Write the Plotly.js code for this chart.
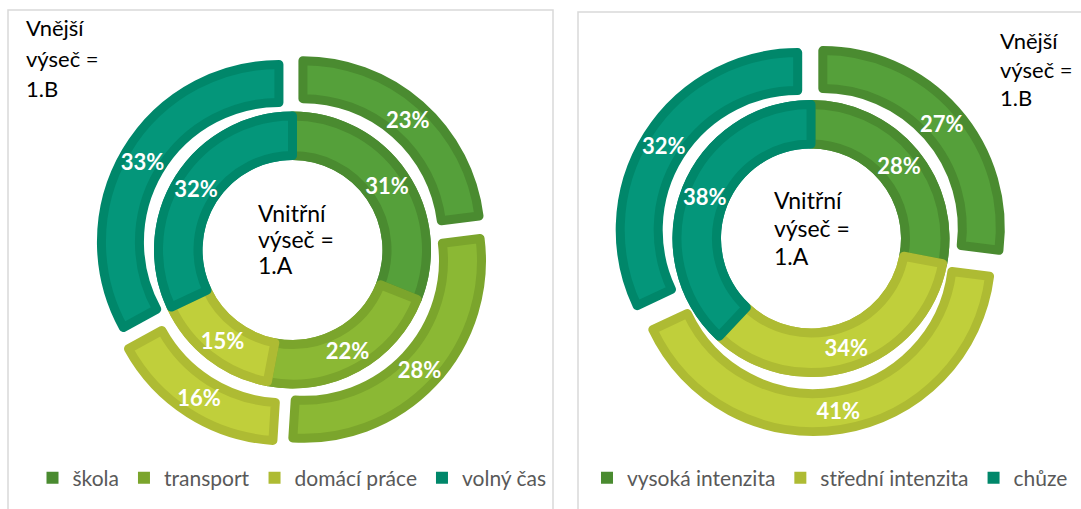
<!DOCTYPE html>
<html><head><meta charset="utf-8">
<script src="https://cdn.plot.ly/plotly-3.0.1.min.js"></script>
<style>html,body{margin:0;padding:0;background:#fff}#chart{width:1081px;height:509px}</style>
</head><body><div id="chart"></div>
<script>
// ---- data ----
const leftCategories = ['škola', 'transport', 'domácí práce', 'volný čas'];
const leftInner = [31, 22, 15, 32];   // Vnitřní výseč = 1.A
const leftOuter = [23, 28, 16, 33];   // Vnější výseč = 1.B
const rightCategories = ['vysoká intenzita', 'střední intenzita', 'chůze'];
const rightInner = [28, 34, 38];      // 1.A
const rightOuter = [27, 41, 32];      // 1.B
const innerNote = ['Vnitřní', 'výseč =', '1.A'];
const outerNote = ['Vnější', 'výseč =', '1.B'];

// ---- styles ----
const leftFill  = ['#55A03A', '#8BB834', '#C0CF3B', '#04967A'];
const leftLine  = ['#4A8B30', '#7BA52C', '#AEBB33', '#00876A'];
const rightFill = ['#55A03A', '#C0CF3B', '#04967A'];
const rightLine = ['#4A8B30', '#AEBB33', '#00876A'];

const W = 1081, H = 509;
const FONT = 'Lato, "Open Sans", sans-serif';
const px = x => x / W, py = y => (H - y) / H;
function dom(cx, cy, R, pull) {
  const h = R * (1 + pull);
  return {x: [px(cx - h), px(cx + h)], y: [py(cy + h), py(cy - h)]};
}
const STROKE = 9;
// ring geometry (pixels)
const OUT = {R: 177.5, hole: 139.5, d: 15.75};
const INN = {R: 134, hole: 94.5, d: 0};

function ringTraces(labels, outerVals, innerVals, fill, line, cx, cy, legendId) {
  const tr = [];
  const common = {type: 'pie', labels: labels, sort: false,
    direction: 'clockwise', rotation: 0, legend: legendId};
  // dark base under the inner ring (gives solid legend swatches)
  const Rb = INN.R + STROKE / 2, hb = INN.hole - STROKE / 2;
  tr.push(Object.assign({}, common, {
    values: innerVals,
    domain: dom(cx, cy, Rb, 0), hole: hb / Rb,
    marker: {colors: line, line: {width: 0}},
    textinfo: 'none', hoverinfo: 'skip', showlegend: true
  }));
  [[OUT, outerVals], [INN, innerVals]].forEach(([g, vals]) => {
    const pull = g.d / g.R;
    tr.push(Object.assign({}, common, {
      values: vals,
      domain: dom(cx, cy, g.R, pull), hole: g.hole / g.R, pull: pull,
      marker: {colors: fill, line: {color: line, width: STROKE}},
      textinfo: 'none', showlegend: false
    }));
    // transparent label layer, same mid radius, thicker ring so labels fit
    const mid = (g.R + g.hole) / 2, half = 35;
    const R2 = mid + half, h2 = mid - half;
    const pull2 = g.d / R2;
    tr.push(Object.assign({}, common, {
      values: vals,
      domain: dom(cx, cy, R2, pull2), hole: h2 / R2, pull: pull2,
      marker: {colors: labels.map(() => 'rgba(0,0,0,0)'), line: {width: 0}},
      texttemplate: '%{value}%', textposition: 'inside',
      insidetextorientation: 'horizontal',
      textfont: {family: FONT, size: 22, color: '#FFFFFF', weight: 700},
      hoverinfo: 'skip', showlegend: false
    }));
  });
  return tr;
}

const traces = [].concat(
  ringTraces(leftCategories, leftOuter, leftInner, leftFill, leftLine, 292.5, 250, 'legend'),
  ringTraces(rightCategories, rightOuter, rightInner, rightFill, rightLine, 811, 238.5, 'legend2')
);

function noteAnns(lines, x, y0, step, size) {
  return lines.map((s, i) => ({
    text: s, xref: 'paper', yref: 'paper', x: px(x), y: py(y0 + i * step),
    xanchor: 'left', yanchor: 'middle', showarrow: false, align: 'left',
    font: {family: FONT, size: size, color: '#000000'}
  }));
}

const legendCommon = {orientation: 'h', xanchor: 'center', yanchor: 'middle',
  bgcolor: 'rgba(0,0,0,0)', font: {family: FONT, size: 21, color: '#595959'},
  itemclick: false, itemdoubleclick: false, traceorder: 'normal'};

const layout = {
  width: W, height: H, margin: {l: 0, r: 0, t: 0, b: 0},
  paper_bgcolor: '#FFFFFF', plot_bgcolor: '#FFFFFF',
  showlegend: true,
  legend: Object.assign({}, legendCommon, {x: px(292), y: py(478)}),
  legend2: Object.assign({}, legendCommon, {x: px(830), y: py(478)}),
  shapes: [
    {type: 'rect', xref: 'paper', yref: 'paper', x0: px(8), x1: px(553), y0: py(520), y1: py(10),
     line: {color: '#D9D9D9', width: 1.5}, fillcolor: 'rgba(0,0,0,0)', layer: 'below'},
    {type: 'rect', xref: 'paper', yref: 'paper', x0: px(578), x1: px(1100), y0: py(520), y1: py(12),
     line: {color: '#D9D9D9', width: 1.5}, fillcolor: 'rgba(0,0,0,0)', layer: 'below'}
  ],
  annotations: [].concat(
    noteAnns(outerNote, 24, 28, 30, 22),
    noteAnns(innerNote, 256, 213, 26, 23),
    noteAnns(outerNote, 998, 40, 29, 22),
    noteAnns(innerNote, 772, 200, 28, 23)
  )
};

Plotly.newPlot('chart', traces, layout, {displayModeBar: false, staticPlot: true});
</script>
</body></html>
